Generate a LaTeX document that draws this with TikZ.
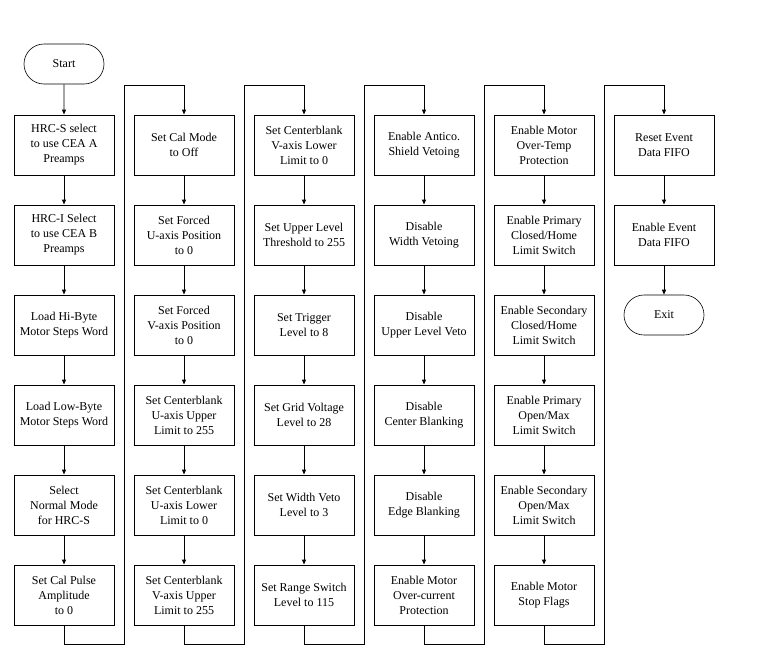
\documentclass[tikz,border=0pt]{standalone}
\usepackage{fontspec}
\setmainfont{Liberation Serif}
\usetikzlibrary{arrows.meta,shapes.misc}
\begin{document}
\begin{tikzpicture}[x=1pt,y=-1pt,
  every node/.style={font=\fontsize{12}{15}\selectfont},
  proc/.style={draw,line width=0.9pt,minimum width=100pt,minimum height=60pt,inner sep=0pt,align=center},
  term/.style={draw,line width=0.6pt,rounded rectangle,minimum width=80pt,minimum height=40pt,inner sep=0pt},
  arr/.style={line width=0.9pt,-{Triangle[length=5pt,width=4pt]}},
  ln/.style={line width=0.9pt}]
\useasboundingbox (0,0) rectangle (766,659);
\node[term] (start) at (64,64) {Start};
% column 1
\node[proc] (a1) at (64,145) {HRC-S select\\to use CEA A\\Preamps};
\node[proc] (a2) at (64,235) {HRC-I Select\\to use CEA B\\Preamps};
\node[proc] (a3) at (64,325) {Load Hi-Byte\\Motor Steps Word};
\node[proc] (a4) at (64,415) {Load Low-Byte\\Motor Steps Word};
\node[proc] (a5) at (64,505) {Select\\Normal Mode\\for HRC-S};
\node[proc] (a6) at (64,595) {Set Cal Pulse\\Amplitude\\to 0};
% column 2
\node[proc] (b1) at (184,145) {Set Cal Mode\\to Off};
\node[proc] (b2) at (184,235) {Set Forced\\U-axis Position\\to 0};
\node[proc] (b3) at (184,325) {Set Forced\\V-axis Position\\to 0};
\node[proc] (b4) at (184,415) {Set Centerblank\\U-axis Upper\\Limit to 255};
\node[proc] (b5) at (184,505) {Set Centerblank\\U-axis Lower\\Limit to 0};
\node[proc] (b6) at (184,595) {Set Centerblank\\V-axis Upper\\Limit to 255};
% column 3
\node[proc] (c1) at (304,145) {Set Centerblank\\V-axis Lower\\Limit to 0};
\node[proc] (c2) at (304,235) {Set Upper Level\\Threshold to 255};
\node[proc] (c3) at (304,325) {Set Trigger\\Level to 8};
\node[proc] (c4) at (304,415) {Set Grid Voltage\\Level to 28};
\node[proc] (c5) at (304,505) {Set Width Veto\\Level to 3};
\node[proc] (c6) at (304,595) {Set Range Switch\\Level to 115};
% column 4
\node[proc] (d1) at (424,145) {Enable Antico.\\Shield Vetoing};
\node[proc] (d2) at (424,235) {Disable\\Width Vetoing};
\node[proc] (d3) at (424,325) {Disable\\Upper Level Veto};
\node[proc] (d4) at (424,415) {Disable\\Center Blanking};
\node[proc] (d5) at (424,505) {Disable\\Edge Blanking};
\node[proc] (d6) at (424,595) {Enable Motor\\Over-current\\Protection};
% column 5
\node[proc] (e1) at (544,145) {Enable Motor\\Over-Temp\\Protection};
\node[proc] (e2) at (544,235) {Enable Primary\\Closed/Home\\Limit Switch};
\node[proc] (e3) at (544,325) {Enable Secondary\\Closed/Home\\Limit Switch};
\node[proc] (e4) at (544,415) {Enable Primary\\Open/Max\\Limit Switch};
\node[proc] (e5) at (544,505) {Enable Secondary\\Open/Max\\Limit Switch};
\node[proc] (e6) at (544,595) {Enable Motor\\Stop Flags};
% column 6
\node[proc] (f1) at (664,145) {Reset Event\\Data FIFO};
\node[proc] (f2) at (664,235) {Enable Event\\Data FIFO};
\node[term] (exit) at (664,315) {Exit};
% return-path corners
\foreach \i/\x in {1/124,2/244,3/364,4/484,5/604}{
  \coordinate (rb\i) at (\x,644);
  \coordinate (rt\i) at (\x,85);
}
% connectors within columns
\draw[arr] (start) -- (a1);
\foreach \c in {a,b,c,d,e}{
  \draw[arr] (\c1) -- (\c2);
  \draw[arr] (\c2) -- (\c3);
  \draw[arr] (\c3) -- (\c4);
  \draw[arr] (\c4) -- (\c5);
  \draw[arr] (\c5) -- (\c6);
}
\draw[arr] (f1) -- (f2);
\draw[arr] (f2) -- (exit);
% column-to-column connectors
\draw[arr] (a6.south) |- (rb1) -- (rt1) -| (b1.north);
\draw[arr] (b6.south) |- (rb2) -- (rt2) -| (c1.north);
\draw[arr] (c6.south) |- (rb3) -- (rt3) -| (d1.north);
\draw[arr] (d6.south) |- (rb4) -- (rt4) -| (e1.north);
\draw[arr] (e6.south) |- (rb5) -- (rt5) -| (f1.north);
\end{tikzpicture}
\end{document}
